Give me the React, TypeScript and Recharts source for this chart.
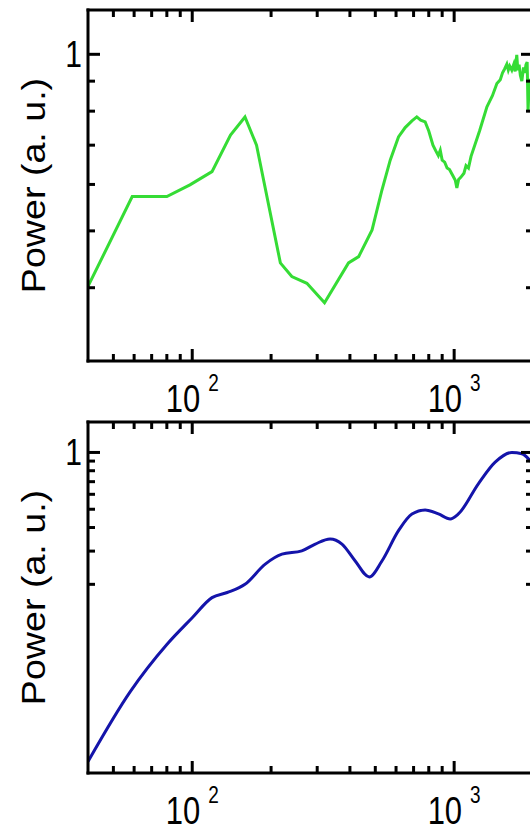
import React from 'react';
import { LineChart, Line, XAxis, YAxis } from 'recharts';

const FONT = "'Liberation Sans', Arial, sans-serif";

// frequency axis, shared by both panels
const xDomain = [40, 2000];
const xTicks = [50, 60, 70, 80, 90, 100, 200, 300, 400, 500, 600, 700, 800, 900, 1000];
const xMajor = [100, 1000];

// upper panel: measured spectrum
const greenFreq = [
  40, 59, 80, 98, 119, 140, 159, 176, 217, 240, 274, 320, 395, 432, 486, 530, 570, 613, 650, 690,
  720, 745, 775, 800, 830, 850, 870, 885, 900, 920, 940, 960, 990, 1010, 1024, 1040, 1060, 1090,
  1110, 1134, 1160, 1250, 1334, 1400, 1456, 1500, 1530, 1560, 1589, 1610, 1630, 1660, 1690, 1710,
  1734, 1750, 1770, 1790, 1813, 1840, 1860, 1880, 1900, 1915, 1935, 2000,
];
const greenPower = [
  0.402, 0.572, 0.572, 0.599, 0.631, 0.728, 0.782, 0.7, 0.441, 0.418, 0.407, 0.377, 0.441, 0.452,
  0.502, 0.587, 0.66, 0.723, 0.75, 0.77, 0.782, 0.772, 0.767, 0.74, 0.7, 0.685, 0.672, 0.686, 0.66,
  0.655, 0.64, 0.636, 0.62, 0.61, 0.592, 0.612, 0.617, 0.627, 0.646, 0.64, 0.67, 0.74, 0.814, 0.85,
  0.892, 0.905, 0.93, 0.945, 0.962, 0.94, 0.955, 0.94, 0.962, 0.935, 0.998, 0.94, 0.96, 0.92, 0.9,
  0.95, 0.93, 0.96, 0.97, 0.8, 0.9, 0.88,
];
const greenYDomain = [0.3, 1.19];
const greenYTicks = [0.4, 0.5, 0.6, 0.7, 0.8, 0.9, 1];

// lower panel: simulated spectrum
const blueFreq = [
  40, 58, 80, 100, 119, 136, 159, 190, 220, 262, 295, 336, 373, 419, 474, 530, 613, 690, 775, 871,
  966, 1038, 1237, 1434, 1660, 1813, 1950, 2000,
];
const bluePower = [
  0.023, 0.054, 0.096, 0.133, 0.17, 0.181, 0.2, 0.256, 0.289, 0.301, 0.327, 0.348, 0.327, 0.266,
  0.219, 0.266, 0.385, 0.472, 0.496, 0.472, 0.444, 0.472, 0.682, 0.888, 1.0, 0.984, 0.906, 0.87,
];
const blueYDomain = [0.02, 1.45];
const blueYTicks = [0.2, 0.3, 0.4, 0.5, 0.6, 0.7, 0.8, 0.9, 1];

const toRows = (f: number[], p: number[]) => f.map((v, i) => ({ f: v, p: p[i] }));

const axisStyle = { stroke: '#000', strokeWidth: 3, strokeLinecap: 'square' as const };
const MAJOR = 12;
const MINOR = 7;

const BottomTick = ({ x, y, payload }: any) => {
  const major = xMajor.includes(payload.value);
  return (
    <g>
      <line x1={x} x2={x} y1={y} y2={y - (major ? MAJOR : MINOR)} stroke="#000" strokeWidth={3} />
      {major && (
        <text
          transform={`translate(${x},${y + 51}) scale(1,1.25)`}
          textAnchor="middle"
          fontSize={31}
          fontFamily={FONT}
          fill="#000"
        >
          10
          <tspan dx={8} dy={-17} fontSize={19}>
            {Math.round(Math.log10(payload.value))}
          </tspan>
        </text>
      )}
    </g>
  );
};

const TopTick = ({ x, y, payload }: any) => {
  const major = xMajor.includes(payload.value);
  return <line x1={x} x2={x} y1={y} y2={y + (major ? MAJOR : MINOR)} stroke="#000" strokeWidth={3} />;
};

const LeftTick = ({ x, y, payload }: any) => {
  const major = payload.value === 1;
  return (
    <g>
      <line x1={x} x2={x + (major ? MAJOR : MINOR)} y1={y} y2={y} stroke="#000" strokeWidth={3} />
      {major && (
        <text
          transform={`translate(${x - 6},${y + 13}) scale(1,1.2)`}
          textAnchor="end"
          fontSize={30}
          fontFamily={FONT}
          fill="#000"
        >
          1
        </text>
      )}
    </g>
  );
};

const RightTick = ({ x, y, payload }: any) => {
  const major = payload.value === 1;
  return <line x1={x} x2={x - (major ? MAJOR : MINOR)} y1={y} y2={y} stroke="#000" strokeWidth={3} />;
};

const PowerTitle = ({ viewBox }: any) => {
  const cy = viewBox.y + viewBox.height / 2;
  return (
    <text
      transform={`translate(45,${cy}) scale(1,1.14) rotate(-90)`}
      textAnchor="middle"
      fontSize={33}
      fontFamily={FONT}
      fill="#000"
    >
      Power (a. u.)
    </text>
  );
};

type PanelProps = {
  freq: number[];
  power: number[];
  color: string;
  yDomain: number[];
  yTicks: number[];
  curve: 'linear' | 'monotone';
};

const Panel = ({ freq, power, color, yDomain, yTicks, curve }: PanelProps) => {
  const data = toRows(freq, power);
  const xCommon = {
    type: 'number' as const,
    dataKey: 'f',
    scale: 'log' as const,
    domain: xDomain,
    allowDataOverflow: true,
    ticks: xTicks,
    interval: 0,
    tickSize: 0,
    tickMargin: 0,
    tickLine: false,
    axisLine: axisStyle,
  };
  const yCommon = {
    type: 'number' as const,
    scale: 'log' as const,
    domain: yDomain,
    allowDataOverflow: true,
    ticks: yTicks,
    interval: 0,
    tickSize: 0,
    tickMargin: 0,
    tickLine: false,
    axisLine: axisStyle,
  };
  // extra bottom margin leaves room for the decade labels under the axis
  return (
    <LineChart width={560} height={470} data={data} margin={{ top: 0, right: 0, bottom: 59, left: 0 }}>
      <XAxis xAxisId="bottom" {...xCommon} height={50} tick={(p: any) => <BottomTick {...p} />} />
      <XAxis xAxisId="top" orientation="top" {...xCommon} height={10} tick={(p: any) => <TopTick {...p} />} />
      <YAxis
        yAxisId="left"
        {...yCommon}
        width={88}
        tick={(p: any) => <LeftTick {...p} />}
        label={<PowerTitle />}
      />
      <YAxis yAxisId="right" orientation="right" {...yCommon} width={27} tick={(p: any) => <RightTick {...p} />} />
      <Line
        xAxisId="bottom"
        yAxisId="left"
        type={curve}
        dataKey="p"
        stroke={color}
        strokeWidth={3}
        dot={false}
        activeDot={false}
        isAnimationActive={false}
      />
    </LineChart>
  );
};

export default function App() {
  return (
    <div
      style={{
        position: 'fixed',
        left: 0,
        top: 0,
        width: 530,
        height: 832,
        overflow: 'hidden',
        background: '#fff',
      }}
    >
      <div style={{ position: 'absolute', left: 0, top: 0 }}>
        <Panel
          freq={greenFreq}
          power={greenPower}
          color="#35dc35"
          yDomain={greenYDomain}
          yTicks={greenYTicks}
          curve="linear"
        />
      </div>
      <div style={{ position: 'absolute', left: 0, top: 412 }}>
        <Panel
          freq={blueFreq}
          power={bluePower}
          color="#1414aa"
          yDomain={blueYDomain}
          yTicks={blueYTicks}
          curve="monotone"
        />
      </div>
    </div>
  );
}
